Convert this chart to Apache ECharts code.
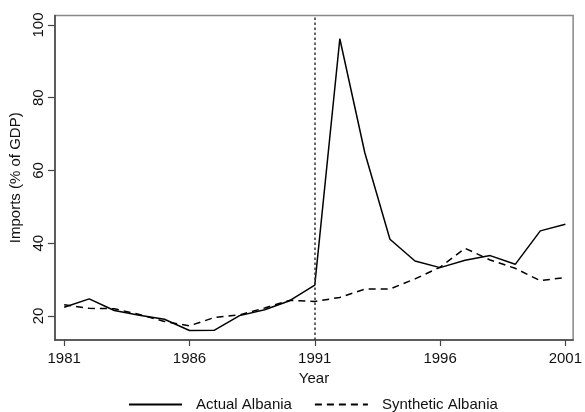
<!DOCTYPE html>
<html><head><meta charset="utf-8">
<script src="https://cdn.jsdelivr.net/npm/echarts@6/dist/echarts.min.js"></script>
<style>html,body{margin:0;padding:0;background:#fff}#c{width:585px;height:412px}</style>
</head><body><div id="c"></div>
<script>
const years = [1981,1982,1983,1984,1985,1986,1987,1988,1989,1990,1991,1992,1993,1994,1995,1996,1997,1998,1999,2000,2001];
const actual = [22.4,24.7,21.5,20.2,19.1,16.0,16.1,20.1,21.7,24.2,28.5,96.2,64.8,41.1,35.1,33.3,35.3,36.6,34.2,43.4,45.2];
const synthetic = [23.1,22.1,22.0,20.4,18.5,17.3,19.6,20.3,22.2,24.3,24.0,25.1,27.4,27.4,30.2,33.4,38.6,35.4,33.1,29.7,30.6];
const xTicks = [1981,1986,1991,1996,2001];
const yTicks = [20,40,60,80,100];
const treatYear = 1991;

const font = 'Liberation Sans, Arial, sans-serif';
const chart = echarts.init(document.getElementById('c'), null, {renderer:'canvas'});
chart.setOption({
  animation:false,
  backgroundColor:'#fff',
  grid:{left:52,right:8,top:15.5,bottom:72,show:true,borderColor:'#888',borderWidth:1.5},
  xAxis:{type:'value',min:1980.63,max:2001.31,
    name:'Year',nameLocation:'middle',nameGap:27,
    nameTextStyle:{fontFamily:font,fontSize:15,color:'#111'},
    axisLine:{show:true,lineStyle:{color:'#444',width:1.5}},
    axisTick:{show:true,length:6,customValues:xTicks,lineStyle:{color:'#444',width:1.2}},
    axisLabel:{customValues:xTicks,fontFamily:font,fontSize:15,color:'#111',margin:11,formatter:v=>String(v)},
    splitLine:{show:false}},
  yAxis:{type:'value',min:13.4,max:102.6,
    name:'Imports (% of GDP)',nameLocation:'middle',nameGap:23,nameRotate:90,
    nameTextStyle:{fontFamily:font,fontSize:15,color:'#111'},
    axisLine:{show:true,lineStyle:{color:'#444',width:1.5}},
    axisTick:{show:true,length:7,customValues:yTicks,lineStyle:{color:'#444',width:1.2}},
    axisLabel:{customValues:yTicks,rotate:90,fontFamily:font,fontSize:15,color:'#111',margin:9,formatter:v=>String(v)},
    splitLine:{show:false}},
  legend:{bottom:-5,left:123,itemWidth:53,itemHeight:14,itemGap:22,
    itemStyle:{opacity:0},
    textStyle:{fontFamily:font,fontSize:15,color:'#111',padding:[0,0,0,9]},
    data:['Actual Albania','Synthetic Albania']},
  series:[
    {name:'Actual Albania',type:'line',symbol:'none',
     data:years.map((y,i)=>[y,actual[i]]),
     lineStyle:{color:'#000',width:1.5,type:'solid'},itemStyle:{color:'#000',opacity:0},
     markLine:{silent:true,symbol:'none',label:{show:false},
       lineStyle:{color:'#333',width:1.5,type:[2.5,2.5],opacity:1},
       data:[{xAxis:treatYear}]}},
    {name:'Synthetic Albania',type:'line',symbol:'none',
     data:years.map((y,i)=>[y,synthetic[i]]),
     lineStyle:{color:'#000',width:1.5,type:[7,5]},itemStyle:{color:'#000',opacity:0}}
  ]
});
</script></body></html>
